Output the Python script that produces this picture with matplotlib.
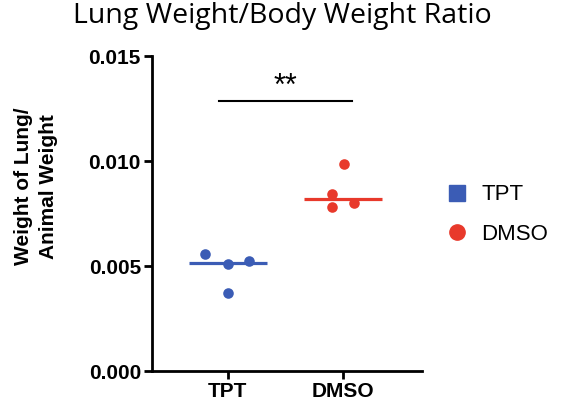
import matplotlib
matplotlib.use("Agg")
import matplotlib.pyplot as plt
from matplotlib.lines import Line2D
import numpy as np

groups = ["TPT", "DMSO"]
tpt_vals = [0.00556, 0.00510, 0.00522, 0.00373]
dmso_vals = [0.00986, 0.00843, 0.00782, 0.00799]
jitter = [[-0.2, 0.0, 0.18, 0.0], [0.01, -0.09, -0.09, 0.1]]
yticks = [0.000, 0.005, 0.010, 0.015]

blue = "#3B5CB5"
red = "#E8392B"

fig = plt.figure(figsize=(5.62, 4.09), dpi=100)
ax = fig.add_axes([0.2705, 0.0929, 0.4805, 0.770])

for i, (vals, col) in enumerate([(tpt_vals, blue), (dmso_vals, red)]):
    xs = np.array(jitter[i]) + i
    ax.scatter(xs, vals, s=58, color=col, zorder=3, linewidths=0)
    med = np.median(vals)
    ax.plot([i - 0.34, i + 0.34], [med, med], color=col, lw=2.3, zorder=2,
            solid_capstyle="butt")

# significance bar
ax.plot([-0.08, 1.08], [0.01286, 0.01286], color="black", lw=1.5, clip_on=False)
ax.text(0.5, 0.01282, "**", ha="center", va="bottom", fontsize=22,
        family="Liberation Sans")

ax.set_xlim(-0.66, 1.69)
ax.set_ylim(0, 0.015)
ax.set_xticks([0, 1])
ax.set_xticklabels(groups, fontsize=15, fontweight="bold", family="Liberation Sans")
ax.set_yticks(yticks)
ax.set_yticklabels([f"{v:.3f}" for v in yticks], fontsize=15, fontweight="bold",
                   family="Liberation Sans")
ax.tick_params(width=2, length=6, color="black", pad=2)
for s in ["top", "right"]:
    ax.spines[s].set_visible(False)
for s in ["left", "bottom"]:
    ax.spines[s].set_linewidth(2)

ax.set_ylabel("Weight of Lung/\nAnimal Weight", fontsize=15, fontweight="bold",
              family="Liberation Sans", linespacing=1.4)
ax.yaxis.set_label_coords(-0.35, 0.587)

fig.suptitle("Lung Weight/Body Weight Ratio", x=0.503, y=0.995, fontsize=20.5,
             family="Open Sans", va="top")

handles = [Line2D([], [], marker="s", color=blue, ls="", markersize=11),
           Line2D([], [], marker="o", color=red, ls="", markersize=11)]
fig.legend(handles, groups, loc="center left", bbox_to_anchor=(0.758, 0.475),
           frameon=False, prop={"family": "Liberation Sans", "size": 16},
           handletextpad=0.6, labelspacing=0.85, handlelength=1.0)

fig.savefig("out.png", dpi=100)
